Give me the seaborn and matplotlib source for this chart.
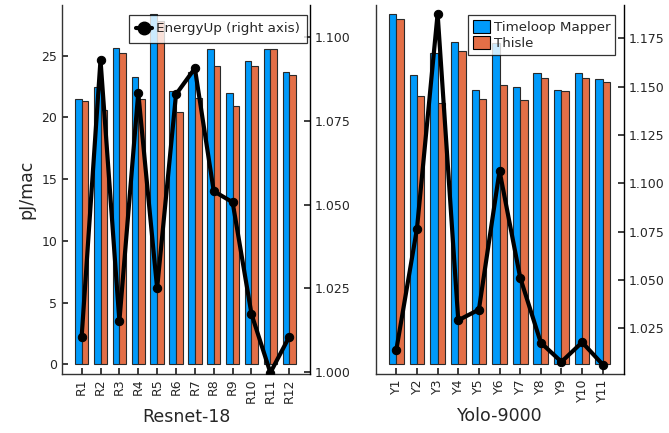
import numpy as np
import pandas as pd
import matplotlib
matplotlib.use("Agg")
import matplotlib.pyplot as plt
import seaborn as sns
from matplotlib.patches import Patch
from matplotlib.lines import Line2D

# ---- data ----
resnet_layers = ["R1", "R2", "R3", "R4", "R5", "R6", "R7", "R8", "R9", "R10", "R11", "R12"]
resnet_timeloop = [21.5, 22.5, 25.6, 23.3, 28.4, 22.1, 23.7, 25.5, 22.0, 24.6, 25.5, 23.7]
resnet_thisle = [21.3, 20.6, 25.2, 21.5, 27.8, 20.4, 21.6, 24.2, 20.9, 24.2, 25.5, 23.4]
resnet_energyup = [1.0104, 1.0932, 1.0152, 1.0834, 1.0250, 1.0829, 1.0907, 1.0540,
                   1.0507, 1.0173, 0.9998, 1.0105]

yolo_layers = ["Y1", "Y2", "Y3", "Y4", "Y5", "Y6", "Y7", "Y8", "Y9", "Y10", "Y11"]
yolo_timeloop = [28.4, 23.4, 25.2, 26.1, 22.2, 26.0, 22.5, 23.6, 22.2, 23.6, 23.1]
yolo_thisle = [28.0, 21.7, 21.2, 25.4, 21.5, 22.6, 21.4, 23.2, 22.1, 23.2, 22.9]
yolo_energyup = [1.0138, 1.0765, 1.1877, 1.0291, 1.0346, 1.1064, 1.0512, 1.0175,
                 1.0076, 1.0177, 1.0062]

series_names = ["Timeloop Mapper", "Thisle"]
BLUE = "#009AFA"
ORANGE = "#E36F47"

sns.set_theme(style="white")
plt.rcParams["font.family"] = ["DejaVu Sans"]

fig = plt.figure(figsize=(6.69, 4.33), dpi=100)
W, H = 669, 433


def make_ax(x0, x1, y0, y1):
    return fig.add_axes([x0 / W, 1 - y1 / H, (x1 - x0) / W, (y1 - y0) / H])


def panel(ax, layers, tl, th, eu, xlabel, xlim, y2lim, y2ticks, show_left):
    df = pd.DataFrame({
        "layer": layers * 2,
        "value": list(tl) + list(th),
        "series": [series_names[0]] * len(layers) + [series_names[1]] * len(layers),
    })
    sns.barplot(data=df, x="layer", y="value", hue="series", ax=ax,
                palette=[BLUE, ORANGE], width=0.71, gap=0,
                edgecolor="#2a2a2a", linewidth=0.8, saturation=1, legend=False)
    ax.set_xlim(*xlim)
    ax.set_ylim(-0.78, 29.1)
    ax.set_xlabel(xlabel, fontsize=12.5)
    ax.tick_params(axis="x", rotation=90, labelsize=9, direction="in", length=4,
                   bottom=True, pad=3)
    if show_left:
        ax.set_ylabel("pJ/mac", fontsize=12.5)
        ax.set_yticks([0, 5, 10, 15, 20, 25])
        ax.tick_params(axis="y", labelsize=9, direction="in", length=4, left=True)
    else:
        ax.set_ylabel("")
        ax.set_yticks([])
    for s in ["top", "right"]:
        ax.spines[s].set_visible(False)
    for s in ["left", "bottom"]:
        ax.spines[s].set_color("#333333")
        ax.spines[s].set_linewidth(1.0)

    ax2 = ax.twinx()
    ldf = pd.DataFrame({"x": np.arange(len(layers)), "energy": eu})
    sns.lineplot(data=ldf, x="x", y="energy", ax=ax2, color="black",
                 linewidth=3, marker="o", markersize=6, markeredgecolor="black")
    ax2.set_xlim(*xlim)
    ax2.set_ylim(*y2lim)
    ax2.set_yticks(y2ticks)
    ax2.set_yticklabels([f"{t:.3f}" for t in y2ticks])
    ax2.set_ylabel("")
    ax2.tick_params(axis="y", labelsize=9, direction="in", length=4, right=True)
    for s in ["top", "left", "bottom"]:
        ax2.spines[s].set_visible(False)
    ax2.spines["right"].set_color("black")
    ax2.spines["right"].set_linewidth(1.0)
    return ax2


ax1 = make_ax(62, 310, 5, 374)
ax1b = panel(ax1, resnet_layers, resnet_timeloop, resnet_thisle, resnet_energyup,
             "Resnet-18", (-1.04, 12.1), (0.9994, 1.1096),
             [1.000, 1.025, 1.050, 1.075, 1.100], True)
h = [Line2D([0], [0], color="black", lw=3, marker="o", markersize=9)]
leg = ax1b.legend(h, ["EnergyUp (right axis)"], loc="upper right",
                  bbox_to_anchor=(0.988, 0.973), fontsize=9.7, frameon=True,
                  fancybox=False, edgecolor="black", handlelength=1.2,
                  handletextpad=0.25, borderpad=0.55, borderaxespad=0)
leg.get_frame().set_linewidth(0.9)

ax2 = make_ax(376, 624, 5, 374)
ax2b = panel(ax2, yolo_layers, yolo_timeloop, yolo_thisle, yolo_energyup,
             "Yolo-9000", (-0.985, 11.03), (1.0013, 1.1922),
             [1.025, 1.050, 1.075, 1.100, 1.125, 1.150, 1.175], False)
hb = [Patch(facecolor=BLUE, edgecolor="black", linewidth=0.8),
      Patch(facecolor=ORANGE, edgecolor="black", linewidth=0.8)]
leg2 = ax2b.legend(hb, series_names, loc="upper right",
                   bbox_to_anchor=(0.964, 0.973), fontsize=9.6, frameon=True,
                   fancybox=False, edgecolor="black", handlelength=1.3,
                   handleheight=1.15, handletextpad=0.25, borderpad=0.35,
                   labelspacing=0.15, borderaxespad=0)
leg2.get_frame().set_linewidth(0.9)

fig.savefig("out.png", dpi=100)
